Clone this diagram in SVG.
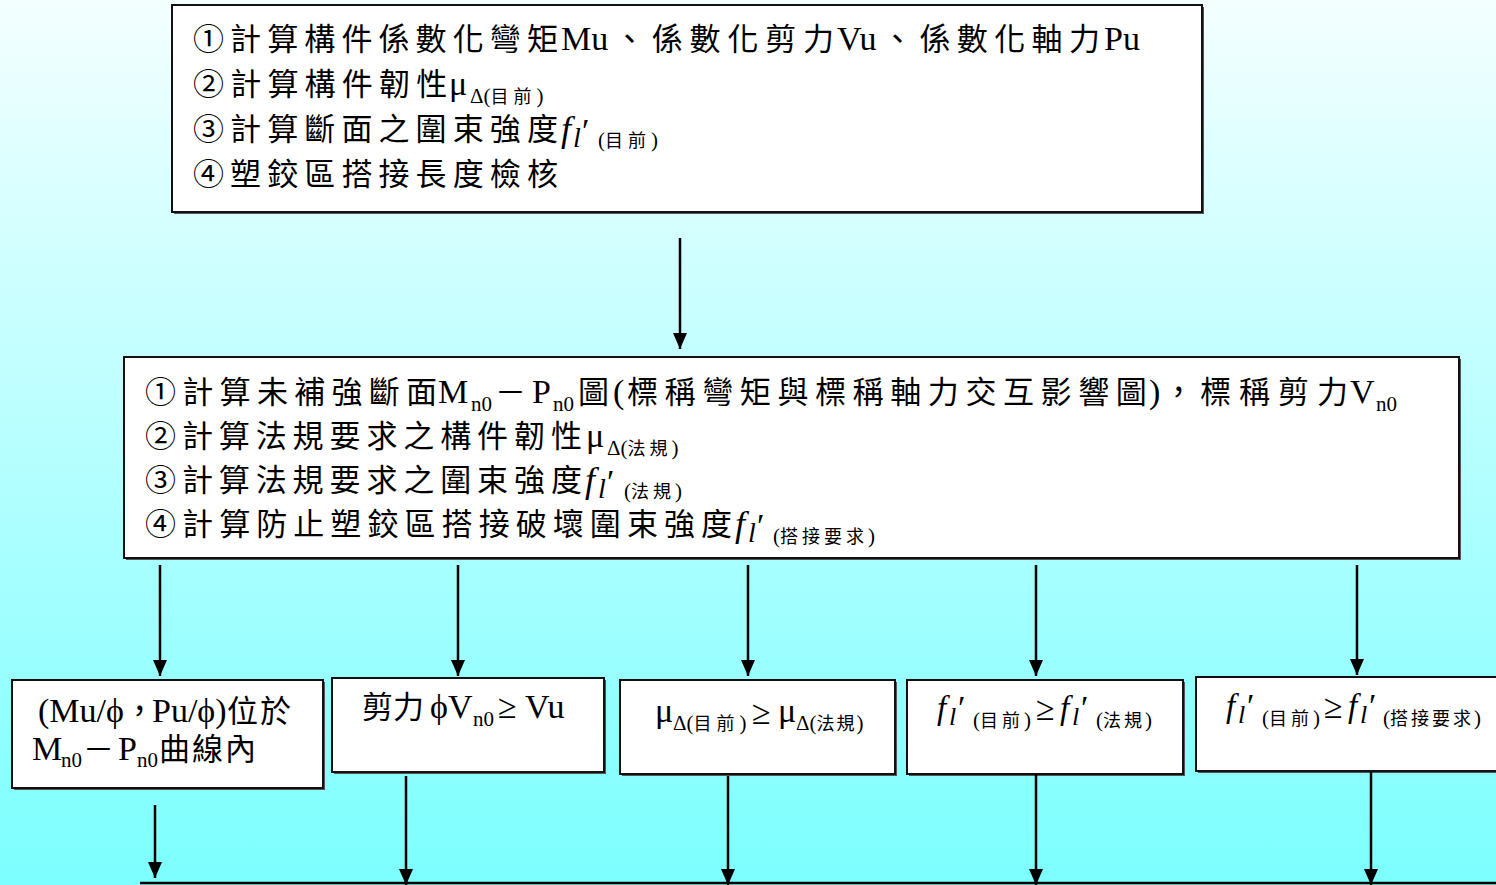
<svg xmlns="http://www.w3.org/2000/svg" width="1496" height="885" viewBox="0 0 1496 885">
<defs>
<linearGradient id="bg" x1="0" y1="0" x2="0" y2="1">
<stop offset="0" stop-color="#F4FFFF"/>
<stop offset="0.3" stop-color="#CFFFFF"/>
<stop offset="1" stop-color="#7CFFFF"/>
</linearGradient>
<marker id="ah" markerUnits="userSpaceOnUse" markerWidth="16" markerHeight="14" refX="16" refY="7" orient="auto">
<path d="M0,0 L16,7 L0,14 z" fill="#000"/>
</marker>
<style>
.box{fill:#fff;stroke:#111;stroke-width:2}
.sh{fill:#555}
text{fill:#000}
.cj{font-family:"Noto Sans CJK TC","Noto Sans CJK JP",sans-serif;font-size:31px}
.lt{font-family:"Liberation Serif",serif;font-size:34px;font-style:normal}
.it{font-family:"Liberation Serif",serif;font-style:italic}
.sm{font-family:"Liberation Serif",serif;font-size:21px;font-style:normal}
.smc{font-family:"Noto Sans CJK TC","Noto Sans CJK JP",sans-serif;font-size:18px}
.z{letter-spacing:0}
.con{stroke:#000;stroke-width:2.5;fill:none}
</style>
</defs>
<rect width="1496" height="885" fill="url(#bg)"/>

<g id="n1">
<rect class="sh" x="174" y="7" width="1030" height="207"/>
<rect class="box" x="172" y="5" width="1030" height="207"/>
<text y="50"><tspan class="cj" x="193" letter-spacing="6.1">①計算構件係數化彎<tspan class="z">矩</tspan></tspan><tspan class="lt" x="561">Mu</tspan><tspan class="cj" x="614" letter-spacing="6.8">、係數化剪<tspan class="z">力</tspan></tspan><tspan class="lt" x="837">Vu</tspan><tspan class="cj" x="882" letter-spacing="6.4">、係數化軸<tspan class="z">力</tspan></tspan><tspan class="lt" x="1104">Pu</tspan></text>
<text y="95"><tspan class="cj" x="193" letter-spacing="6.2">②計算構件韌<tspan class="z">性</tspan></tspan><tspan class="lt" x="449">μ</tspan><tspan class="sm" x="470" y="103">Δ(</tspan><tspan class="smc" letter-spacing="5">目前</tspan><tspan class="sm">)</tspan></text>
<text y="140"><tspan class="cj" x="193" letter-spacing="6.1">③計算斷面之圍束強<tspan class="z">度</tspan></tspan><tspan class="it" x="561" y="141" font-size="36">f</tspan><tspan class="it" x="573" y="147" font-size="28">l</tspan><tspan class="lt" x="582" y="142">′</tspan><tspan class="sm" x="598" y="147">(</tspan><tspan class="smc" letter-spacing="5">目前</tspan><tspan class="sm">)</tspan></text>
<text y="185"><tspan class="cj" x="193" letter-spacing="6.1">④塑鉸區搭接長度檢<tspan class="z">核</tspan></tspan></text>
</g>

<g id="n2">
<rect class="sh" x="126" y="359" width="1335" height="201"/>
<rect class="box" x="124" y="357" width="1335" height="201"/>
<text y="403"><tspan class="cj" x="145" letter-spacing="6.3">①計算未補強斷<tspan class="z">面</tspan></tspan><tspan class="lt" x="438">M</tspan><tspan class="sm" x="471" y="411">n0</tspan><tspan class="cj" x="495" y="403">－</tspan><tspan class="lt" x="532">P</tspan><tspan class="sm" x="553" y="411">n0</tspan><tspan class="cj" x="578" y="403">圖</tspan><tspan class="lt" x="613">(</tspan><tspan class="cj" x="627" letter-spacing="6.6">標稱彎矩與標稱軸力交互影響<tspan class="z">圖</tspan></tspan><tspan class="lt" x="1149">)</tspan><tspan class="cj" x="1163">，</tspan><tspan class="cj" x="1200" letter-spacing="8">標稱剪<tspan class="z">力</tspan></tspan><tspan class="lt" x="1350">V</tspan><tspan class="sm" x="1376" y="411">n0</tspan></text>
<text y="447"><tspan class="cj" x="145" letter-spacing="5.9">②計算法規要求之構件韌<tspan class="z">性</tspan></tspan><tspan class="lt" x="586">μ</tspan><tspan class="sm" x="607" y="455">Δ(</tspan><tspan class="smc" letter-spacing="4">法規</tspan><tspan class="sm">)</tspan></text>
<text y="491"><tspan class="cj" x="145" letter-spacing="5.9">③計算法規要求之圍束強<tspan class="z">度</tspan></tspan><tspan class="it" x="585" y="492" font-size="36">f</tspan><tspan class="it" x="598" y="498" font-size="28">l</tspan><tspan class="lt" x="607" y="493">′</tspan><tspan class="sm" x="624" y="498">(</tspan><tspan class="smc" letter-spacing="4">法規</tspan><tspan class="sm">)</tspan></text>
<text y="535"><tspan class="cj" x="145" letter-spacing="6.07">④計算防止塑鉸區搭接破壞圍束強<tspan class="z">度</tspan></tspan><tspan class="it" x="735" y="536" font-size="36">f</tspan><tspan class="it" x="748" y="542" font-size="28">l</tspan><tspan class="lt" x="757" y="537">′</tspan><tspan class="sm" x="773" y="543">(</tspan><tspan class="smc" letter-spacing="4">搭接要求</tspan><tspan class="sm">)</tspan></text>
</g>

<g id="n3">
<rect class="sh" x="14" y="682" width="311" height="108"/>
<rect class="box" x="12" y="680" width="311" height="108"/>
<text y="722"><tspan class="lt" x="38" font-size="31">(Mu/ϕ</tspan><tspan class="cj" x="124" font-size="28">，</tspan><tspan class="lt" x="152" font-size="31">Pu/ϕ)</tspan><tspan class="cj" x="227" font-size="28" letter-spacing="2">位<tspan class="z">於</tspan></tspan></text>
<text y="760"><tspan class="lt" x="32" font-size="31">M</tspan><tspan class="sm" x="61" y="767" font-size="20">n0</tspan><tspan class="cj" x="83" y="760" font-size="28">－</tspan><tspan class="lt" x="118" font-size="31">P</tspan><tspan class="sm" x="137" y="767" font-size="20">n0</tspan><tspan class="cj" x="159" y="760" font-size="28" letter-spacing="2">曲線<tspan class="z">內</tspan></tspan></text>
</g>

<g id="n4">
<rect class="sh" x="334" y="680" width="272" height="94"/>
<rect class="box" x="332" y="678" width="272" height="94"/>
<text y="718"><tspan class="cj" x="362" font-size="28">剪力</tspan><tspan class="lt" x="430" font-size="31">ϕV</tspan><tspan class="sm" x="473" y="726" font-size="20">n0</tspan><tspan class="lt" x="498" y="718" font-size="30">≥</tspan><tspan class="lt" x="525" font-size="31">Vu</tspan></text>
</g>

<g id="n5">
<rect class="sh" x="622" y="682" width="275" height="94"/>
<rect class="box" x="620" y="680" width="275" height="94"/>
<text y="722"><tspan class="lt" x="655" font-size="31">μ</tspan><tspan class="sm" x="673" y="730">Δ(</tspan><tspan class="smc" letter-spacing="5">目前</tspan><tspan class="sm">)</tspan><tspan class="lt" x="752" y="724" font-size="30">≥</tspan><tspan class="lt" x="778" y="722" font-size="31">μ</tspan><tspan class="sm" x="796" y="730">Δ(</tspan><tspan class="smc" letter-spacing="2">法規</tspan><tspan class="sm">)</tspan></text>
</g>

<g id="n6">
<rect class="sh" x="909" y="682" width="276" height="94"/>
<rect class="box" x="907" y="680" width="276" height="94"/>
<text y="719"><tspan class="it" x="937" font-size="33">f</tspan><tspan class="it" x="949" y="725" font-size="26">l</tspan><tspan class="lt" x="958" y="719" font-size="31">′</tspan><tspan class="sm" x="973" y="727" font-size="20">(</tspan><tspan class="smc" font-size="17" letter-spacing="4">目前</tspan><tspan class="sm" font-size="20">)</tspan><tspan class="lt" x="1036" y="720" font-size="30">≥</tspan><tspan class="it" x="1060" y="719" font-size="33">f</tspan><tspan class="it" x="1072" y="725" font-size="26">l</tspan><tspan class="lt" x="1081" y="719" font-size="31">′</tspan><tspan class="sm" x="1096" y="727" font-size="20">(</tspan><tspan class="smc" font-size="17" letter-spacing="3">法規</tspan><tspan class="sm" font-size="20">)</tspan></text>
</g>

<g id="n7">
<rect class="sh" x="1198" y="679" width="300" height="94"/>
<rect class="box" x="1196" y="677" width="302" height="94"/>
<text y="717"><tspan class="it" x="1226" font-size="33">f</tspan><tspan class="it" x="1238" y="723" font-size="26">l</tspan><tspan class="lt" x="1247" y="717" font-size="31">′</tspan><tspan class="sm" x="1262" y="725" font-size="20">(</tspan><tspan class="smc" font-size="17" letter-spacing="4">目前</tspan><tspan class="sm" font-size="20">)</tspan><tspan class="lt" x="1324" y="718" font-size="30">≥</tspan><tspan class="it" x="1348" y="717" font-size="33">f</tspan><tspan class="it" x="1360" y="723" font-size="26">l</tspan><tspan class="lt" x="1369" y="717" font-size="31">′</tspan><tspan class="sm" x="1383" y="725" font-size="20">(</tspan><tspan class="smc" font-size="17" letter-spacing="3">搭接要求</tspan><tspan class="sm" font-size="20">)</tspan></text>
</g>

<g id="connectors">
<line class="con" x1="680" y1="238" x2="680" y2="349" marker-end="url(#ah)"/>
<line class="con" x1="160" y1="565" x2="160" y2="676" marker-end="url(#ah)"/>
<line class="con" x1="458" y1="565" x2="458" y2="676" marker-end="url(#ah)"/>
<line class="con" x1="748" y1="565" x2="748" y2="676" marker-end="url(#ah)"/>
<line class="con" x1="1036" y1="565" x2="1036" y2="676" marker-end="url(#ah)"/>
<line class="con" x1="1357" y1="565" x2="1357" y2="675" marker-end="url(#ah)"/>
<line class="con" x1="155" y1="805" x2="155" y2="878" marker-end="url(#ah)"/>
<line class="con" x1="406" y1="776" x2="406" y2="885" marker-end="url(#ah)"/>
<line class="con" x1="728" y1="776" x2="728" y2="885" marker-end="url(#ah)"/>
<line class="con" x1="1036" y1="774" x2="1036" y2="885" marker-end="url(#ah)"/>
<line class="con" x1="1371" y1="772" x2="1371" y2="885" marker-end="url(#ah)"/>
<line class="con" x1="140" y1="883" x2="1496" y2="883" stroke-width="3"/>
</g>
</svg>
